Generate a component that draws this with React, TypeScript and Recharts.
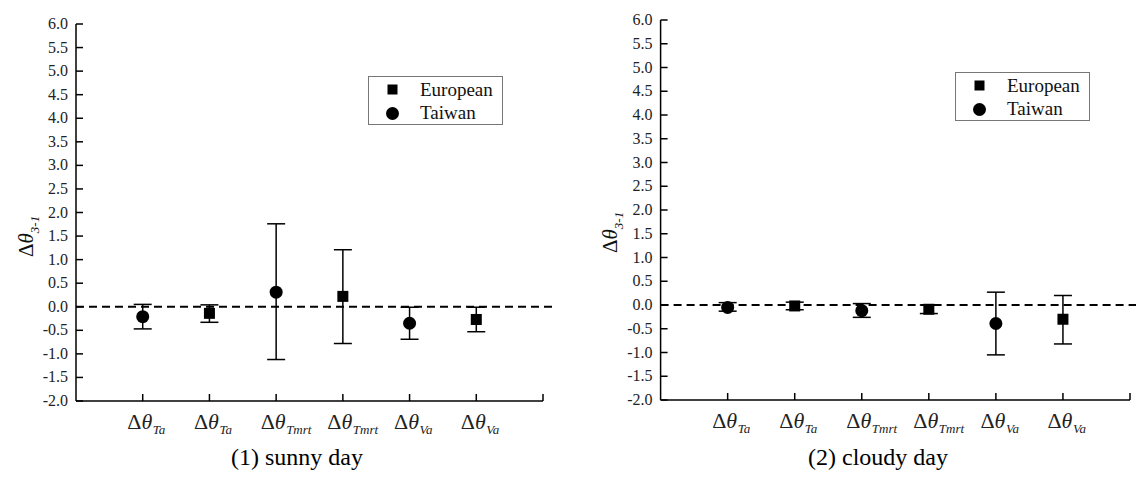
import React from 'react';
import { ScatterChart, Scatter, XAxis, YAxis, ErrorBar, ReferenceLine, Legend } from 'recharts';

// x categories (subscript of each Δθ label) and which group sits at each slot
const categories = ['Ta', 'Ta', 'Tmrt', 'Tmrt', 'Va', 'Va'];
const groups = ['Taiwan', 'European', 'Taiwan', 'European', 'Taiwan', 'European'];

// sunny day: point, lower and upper end of the error bar
const sunnyMean = [-0.21, -0.14, 0.31, 0.22, -0.35, -0.27];
const sunnyLow = [-0.47, -0.33, -1.12, -0.78, -0.69, -0.53];
const sunnyHigh = [0.05, 0.04, 1.76, 1.21, -0.01, -0.01];

// cloudy day
const cloudyMean = [-0.05, -0.02, -0.12, -0.09, -0.39, -0.3];
const cloudyLow = [-0.13, -0.1, -0.26, -0.18, -1.05, -0.82];
const cloudyHigh = [0.05, 0.06, 0.03, 0.0, 0.27, 0.2];

const yTicks = [-2, -1.5, -1, -0.5, 0, 0.5, 1, 1.5, 2, 2.5, 3, 3.5, 4, 4.5, 5, 5.5, 6];
const xTicks = [0, 1, 2, 3, 4, 5, 6, 7];

const FONT = 'Liberation Serif';

function buildRows(mean: number[], low: number[], high: number[], group: string) {
  return mean
    .map((m, i) => ({ x: i + 1, y: m, err: [m - low[i], high[i] - m], group: groups[i] }))
    .filter((r) => r.group === group);
}

const SquareShape = (p: any) => <rect x={p.cx - 5.5} y={p.cy - 5.5} width={11} height={11} fill="#000" />;
const CircleShape = (p: any) => <circle cx={p.cx} cy={p.cy} r={6.5} fill="#000" />;

const YTick = (p: any) => {
  const { x, y, payload } = p;
  return (
    <g>
      <line x1={x} x2={x + 7} y1={y} y2={y} stroke="#000" strokeWidth={1.5} />
      <text x={x - 8} y={y} dy={5} textAnchor="end" fill="#222" fontFamily={FONT} fontSize={16}>
        {Number(payload.value).toFixed(1)}
      </text>
    </g>
  );
};

const XTick = (p: any) => {
  const { x, y, payload } = p;
  const v = payload.value;
  if (v === 0) return <g />;
  const sub = categories[v - 1];
  return (
    <g>
      <line x1={x} x2={x} y1={y} y2={y - 7} stroke="#000" strokeWidth={1.5} />
      {sub && (
        <>
          <text x={x - 3} y={y + 28} textAnchor="middle" fill="#222" fontFamily={FONT} fontSize={22}>
            <tspan>Δ</tspan>
            <tspan fontStyle="italic">θ</tspan>
          </text>
          <text x={x + 10} y={y + 33} textAnchor="start" fill="#222" fontFamily={FONT} fontSize={13} fontStyle="italic">
            {sub}
          </text>
        </>
      )}
    </g>
  );
};

const LegendBox = () => (
  <div
    style={{
      width: 133,
      height: 47,
      border: '1px solid #777',
      fontFamily: FONT,
      fontSize: 19,
      color: '#111',
      background: '#fff',
      position: 'relative',
    }}
  >
    <svg width={30} height={47} style={{ position: 'absolute', left: 10, top: 0 }}>
      <rect x={8.5} y={7.5} width={10} height={10} fill="#000" />
      <circle cx={13.5} cy={36.5} r={6.5} fill="#000" />
    </svg>
    <div style={{ position: 'absolute', left: 51, top: 1, lineHeight: '24px' }}>European</div>
    <div style={{ position: 'absolute', left: 51, top: 24, lineHeight: '24px' }}>Taiwan</div>
  </div>
);

interface PanelProps {
  left: number;
  mean: number[];
  low: number[];
  high: number[];
  margin: { top: number; right: number; bottom: number; left: number };
  legendPos: { left: number; top: number };
  title: string;
  titleCenter: number;
  yLabelX: number;
  yLabelY: number;
}

function Panel({ left, mean, low, high, margin, legendPos, title, titleCenter, yLabelX, yLabelY }: PanelProps) {
  const european = buildRows(mean, low, high, 'European');
  const taiwan = buildRows(mean, low, high, 'Taiwan');
  return (
    <div style={{ position: 'absolute', left, top: 0, width: 568, height: 482, fontFamily: FONT }}>
      <ScatterChart width={568} height={482} margin={margin}>
        <XAxis
          type="number"
          dataKey="x"
          domain={[0, 7]}
          ticks={xTicks}
          interval={0}
          height={60}
          tickSize={0}
          tickMargin={0}
          tickLine={false}
          tick={<XTick />}
          axisLine={{ stroke: '#000', strokeWidth: 1.5 }}
        />
        <YAxis
          type="number"
          dataKey="y"
          domain={[-2, 6]}
          ticks={yTicks}
          interval={0}
          width={50}
          tickSize={0}
          tickMargin={0}
          tickLine={false}
          tick={<YTick />}
          axisLine={{ stroke: '#000', strokeWidth: 1.5 }}
        />
        <ReferenceLine
          segment={[{ x: 0, y: 0 }, { x: 7.2, y: 0 }]}
          stroke="#000"
          strokeWidth={2}
          strokeDasharray="8 5"
          ifOverflow="visible"
        />
        <Scatter name="European" data={european} shape={SquareShape} isAnimationActive={false}>
          <ErrorBar dataKey="err" direction="y" width={9} stroke="#000" strokeWidth={1.5} isAnimationActive={false} />
        </Scatter>
        <Scatter name="Taiwan" data={taiwan} shape={CircleShape} isAnimationActive={false}>
          <ErrorBar dataKey="err" direction="y" width={9} stroke="#000" strokeWidth={1.5} isAnimationActive={false} />
        </Scatter>
        <Legend
          layout="vertical"
          align="center"
          verticalAlign="middle"
          content={<LegendBox />}
          wrapperStyle={{ position: 'absolute', left: legendPos.left, top: legendPos.top, width: 135, height: 49 }}
        />
      </ScatterChart>
      <svg width={568} height={482} style={{ position: 'absolute', left: 0, top: 0, pointerEvents: 'none' }}>
        <text
          transform={`translate(${yLabelX},${yLabelY}) rotate(-90)`}
          fill="#111"
          textAnchor="start"
          fontFamily={FONT}
          fontSize={21}
        >
          <tspan>Δ</tspan>
          <tspan fontStyle="italic">θ</tspan>
          <tspan fontStyle="italic" fontSize={13} dy={6}>3-1</tspan>
        </text>
        <text x={titleCenter} y={465} textAnchor="middle" fill="#000" fontFamily={FONT} fontSize={24}>
          {title}
        </text>
      </svg>
    </div>
  );
}

export default function App() {
  return (
    <div style={{ position: 'absolute', left: 0, top: 0, width: 1136, height: 482, background: '#fff' }}>
      <Panel
        left={0}
        mean={sunnyMean}
        low={sunnyLow}
        high={sunnyHigh}
        margin={{ top: 24, right: 25, bottom: 21, left: 26 }}
        legendPos={{ left: 368, top: 76 }}
        title="(1) sunny day"
        titleCenter={297}
        yLabelX={33}
        yLabelY={257}
      />
      <Panel
        left={568}
        mean={cloudyMean}
        low={cloudyLow}
        high={cloudyHigh}
        margin={{ top: 20, right: 6, bottom: 22, left: 42.6 }}
        legendPos={{ left: 387, top: 72 }}
        title="(2) cloudy day"
        titleCenter={310}
        yLabelX={49}
        yLabelY={253}
      />
    </div>
  );
}
